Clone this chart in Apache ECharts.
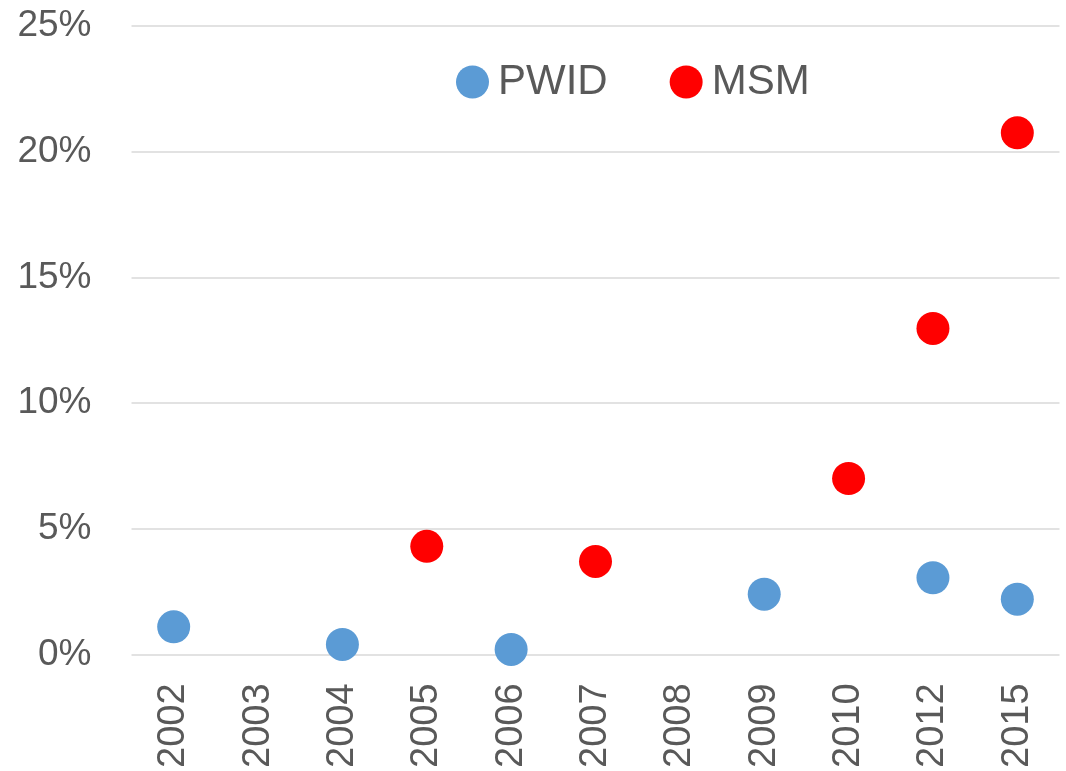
<!DOCTYPE html>
<html lang="en">
<head>
    <meta charset="utf-8">
    <title>PWID / MSM</title>
    <script src="https://cdn.jsdelivr.net/npm/echarts@6/dist/echarts.min.js"></script>
    <style>
        html, body { margin: 0; padding: 0; background: #fff; }
    </style>
</head>
<body>
    <div id="main" style="width:1066px;height:771px;"></div>

    <script type="text/javascript">

    // years on the x axis
    var years = ['2002','2003','2004','2005','2006','2007','2008','2009','2010','2012','2015'];

    // values in percent, null = no point
    var pwid = [1.1, null, 0.4, null, 0.2, null, null, 2.4, null, 3.05, 2.2];
    var msm  = [null, null, null, 4.3, null, 3.7, null, null, 7.0, 12.97, 20.75];

    var yTicks = [0, 5, 10, 15, 20, 25];

    var font = "'Liberation Sans', Arial, sans-serif";
    var grey = '#595959';

    var myChart = echarts.init(document.getElementById('main'));

    myChart.setOption({
        animation: false,
        grid: {
            left: 131.5,
            right: 6.5,
            top: 26,
            bottom: 115.5
        },
        legend: {
            data: ['PWID', 'MSM'],
            left: 451,
            top: 56,
            icon: 'circle',
            itemWidth: 33,
            itemHeight: 33,
            itemGap: 62,
            textStyle: {
                fontFamily: font,
                fontSize: 42,
                color: grey,
                padding: [0, 0, 0, 4]
            }
        },
        xAxis: {
            type: 'category',
            data: years,
            boundaryGap: true,
            axisLine: { show: false },
            axisTick: { show: false },
            axisLabel: {
                rotate: 90,
                margin: 29,
                fontFamily: font,
                fontSize: 38,
                color: grey
            }
        },
        yAxis: {
            type: 'value',
            min: yTicks[0],
            max: yTicks[yTicks.length - 1],
            interval: 5,
            axisLine: { show: false },
            axisTick: { show: false },
            splitLine: { lineStyle: { color: '#d9d9d9', width: 1.5 } },
            axisLabel: {
                margin: 40,
                fontFamily: font,
                fontSize: 37,
                color: grey,
                formatter: '{value}%'
            }
        },
        series: [{
            name: 'PWID',
            type: 'scatter',
            symbol: 'circle',
            symbolSize: 33,
            itemStyle: { color: '#5b9bd5', opacity: 1 },
            data: pwid
        },{
            name: 'MSM',
            type: 'scatter',
            symbol: 'circle',
            symbolSize: 33,
            itemStyle: { color: '#ff0000', opacity: 1 },
            data: msm
        }]
    });

    </script>
</body>
</html>
